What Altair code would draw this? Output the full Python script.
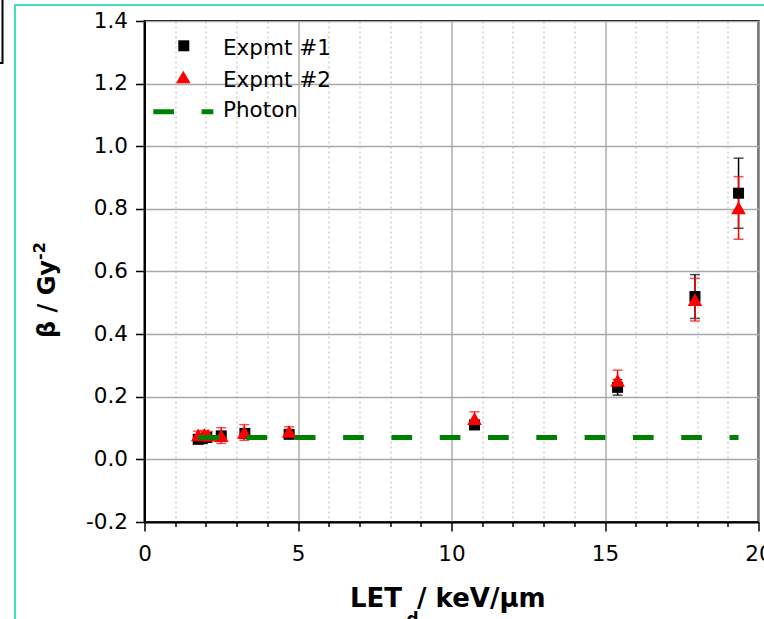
import altair as alt
import pandas as pd

# ---------------- data ----------------
x_ticks = [0, 1, 2, 3, 4, 5, 6, 7, 8, 9, 10, 11, 12, 13, 14, 15, 16, 17, 18, 19, 20]
y_ticks = [-0.2, -0.1, 0.0, 0.1, 0.2, 0.3, 0.4, 0.5, 0.6, 0.7, 0.8, 0.9, 1.0, 1.1, 1.2, 1.3, 1.4]

e1_let = [1.75, 1.88, 2.03, 2.50, 3.27, 4.71, 10.75, 15.41, 17.93, 19.35]
e1_beta = [0.064, 0.066, 0.070, 0.075, 0.083, 0.080, 0.110, 0.230, 0.520, 0.850]
e1_err = [0.008, 0.008, 0.008, 0.010, 0.010, 0.010, 0.012, 0.025, 0.070, 0.112]

e2_let = [1.75, 1.95, 2.07, 2.50, 3.25, 4.71, 10.75, 15.41, 17.93, 19.35]
e2_beta = [0.078, 0.080, 0.077, 0.076, 0.086, 0.089, 0.130, 0.252, 0.510, 0.803]
e2_err = [0.012, 0.012, 0.012, 0.025, 0.025, 0.015, 0.022, 0.033, 0.068, 0.100]

photon_let = [1.75, 19.35]
photon_beta = [0.07, 0.07]

series_names = ["Expmt #1", "Expmt #2", "Photon"]

# ---------------- tables ----------------
d1 = pd.DataFrame({"let": e1_let, "beta": e1_beta, "err": e1_err})
d1["lo"] = d1["beta"] - d1["err"]
d1["hi"] = d1["beta"] + d1["err"]
d2 = pd.DataFrame({"let": e2_let, "beta": e2_beta, "err": e2_err})
d2["lo"] = d2["beta"] - d2["err"]
d2["hi"] = d2["beta"] + d2["err"]
dp = pd.DataFrame({"let": photon_let, "beta": photon_beta})
one = pd.DataFrame({"k": [0]})

FONT = "DejaVu Sans"
major_x = "datum.value % 5 === 0"
major_y = "round(datum.value * 10) % 2 === 0"

x_axis = alt.Axis(
    values=x_ticks, title=None, format="d",
    labelExpr=f"{major_x} ? datum.label : ''",
    labelFont=FONT, labelFontSize=21.5, labelColor="black",
    labelPadding=12, labelFlush=False, labelOverlap=False, labelBound=False,
    domainColor="black", domainWidth=2,
    tickColor="black", tickWidth=1.5,
    tickSize={"condition": {"test": major_x, "value": 9}, "value": 4.5},
    grid=True,
    gridColor={"condition": {"test": major_x, "value": "#a8a8a8"}, "value": "#c4c4c4"},
    gridDash={"condition": {"test": major_x, "value": []}, "value": [2, 3]},
    gridWidth={"condition": {"test": major_x, "value": 1.4}, "value": 1.2},
)
y_axis = alt.Axis(
    values=y_ticks, title=None,
    labelExpr=(f"{major_y} ? (datum.value < 0 ? '-' + format(-datum.value, '.1f') "
               ": format(datum.value, '.1f')) : ''"),
    labelFont=FONT, labelFontSize=21.5, labelColor="black",
    labelPadding=8, labelOverlap=False, labelBound=False, labelFlush=False,
    domainColor="black", domainWidth=2,
    tickColor="black", tickWidth=1.5,
    tickSize={"condition": {"test": major_y, "value": 9}, "value": 4.5},
    grid=True,
    gridColor={"condition": {"test": major_y, "value": "#a8a8a8"}, "value": "#c4c4c4"},
    gridDash={"condition": {"test": major_y, "value": []}, "value": [2, 3]},
    gridWidth={"condition": {"test": major_y, "value": 1.4}, "value": 1.2},
)

X = alt.X("let:Q", scale=alt.Scale(domain=[0, 20], nice=False, zero=False), axis=x_axis)
Y = alt.Y("beta:Q", scale=alt.Scale(domain=[-0.2, 1.4], nice=False, zero=False), axis=y_axis)

BLACK = "#000000"
RED = "#ff0000"
GREEN = "#008000"


def errbars(df, color):
    rule = alt.Chart(df).mark_rule(color=color, strokeWidth=1.5).encode(
        x=X, y=alt.Y("lo:Q"), y2="hi:Q")
    cap_lo = alt.Chart(df).mark_tick(color=color, orient="horizontal", size=10, thickness=1.5).encode(
        x=X, y=alt.Y("lo:Q"))
    cap_hi = alt.Chart(df).mark_tick(color=color, orient="horizontal", size=10, thickness=1.5).encode(
        x=X, y=alt.Y("hi:Q"))
    return rule + cap_lo + cap_hi


eb1 = errbars(d1, BLACK)
eb2 = errbars(d2, RED)
squares = alt.Chart(d1).mark_point(shape="square", filled=True, size=121, color=BLACK, opacity=1).encode(
    x=X, y=Y)
triangles = alt.Chart(d2).mark_point(shape="triangle-up", filled=True, size=215, color=RED, opacity=1).encode(
    x=X, y=Y)
photon = alt.Chart(dp).mark_line(color=GREEN, strokeWidth=5, strokeDash=[20.7, 27.6]).encode(
    x=X, y=Y)

# legend
leg_sq = alt.Chart(one).mark_point(shape="square", filled=True, size=121, color=BLACK, opacity=1).encode(
    x=alt.value(39.3), y=alt.value(24.8))
leg_tri = alt.Chart(one).mark_point(shape="triangle-up", filled=True, size=215, color=RED, opacity=1).encode(
    x=alt.value(38.8), y=alt.value(56))
leg_line = alt.Chart(one).mark_rule(color=GREEN, strokeWidth=5, strokeDash=[20.7, 27.6]).encode(
    x=alt.value(8.8), x2=alt.value(68.8), y=alt.value(90.8))
leg_txt = [
    alt.Chart(one).mark_text(text=series_names[i], font=FONT, fontSize=21.5, color="black",
                             align="left", baseline="alphabetic").encode(
        x=alt.value(78.5), y=alt.value(yy))
    for i, yy in enumerate([34, 65.7, 95.7])
]

# axis titles
xt1 = alt.Chart(one).mark_text(text="LET", font=FONT, fontSize=26, fontWeight="bold", color="black",
                               align="left", baseline="alphabetic").encode(x=alt.value(205.5), y=alt.value(586))
xt2 = alt.Chart(one).mark_text(text="d", font=FONT, fontSize=17, fontWeight="bold", color="black",
                               align="left", baseline="alphabetic").encode(x=alt.value(262), y=alt.value(604))
xt3 = alt.Chart(one).mark_text(text="/ keV/μm", font=FONT, fontSize=26, fontWeight="bold", color="black",
                               align="left", baseline="alphabetic").encode(x=alt.value(272.5), y=alt.value(586))
yt1 = alt.Chart(one).mark_text(text="β / Gy", font=FONT, fontSize=24, fontWeight="bold", color="black",
                               align="right", baseline="alphabetic", angle=270).encode(
    x=alt.value(-89.5), y=alt.value(239))
yt2 = alt.Chart(one).mark_text(text="-2", font=FONT, fontSize=16, fontWeight="bold", color="black",
                               align="left", baseline="alphabetic", angle=270).encode(
    x=alt.value(-99.5), y=alt.value(239))

# decorative frames of the figure page
cyan = alt.Chart(one).mark_rect(fillOpacity=0, stroke="#40e0c0", strokeWidth=2).encode(
    x=alt.value(-129.5), x2=alt.value(640), y=alt.value(-16), y2=alt.value(700))
corner = alt.Chart(one).mark_rect(fillOpacity=0, stroke="black", strokeWidth=2).encode(
    x=alt.value(-170), x2=alt.value(-142), y=alt.value(-40), y2=alt.value(42))

chart = alt.layer(
    eb1, eb2, squares, triangles, photon,
    leg_sq, leg_tri, leg_line, *leg_txt,
    xt1, xt2, xt3, yt1, yt2, cyan, corner,
).properties(
    width=614, height=501,
    padding={"left": 144.5, "top": 21, "right": 5.5, "bottom": 97},
    autosize=alt.AutoSizeParams(type="none"),
    background="white",
).configure_view(stroke="black", strokeWidth=2)

chart.save("out.html", embed_options={"renderer": "svg", "actions": False})
